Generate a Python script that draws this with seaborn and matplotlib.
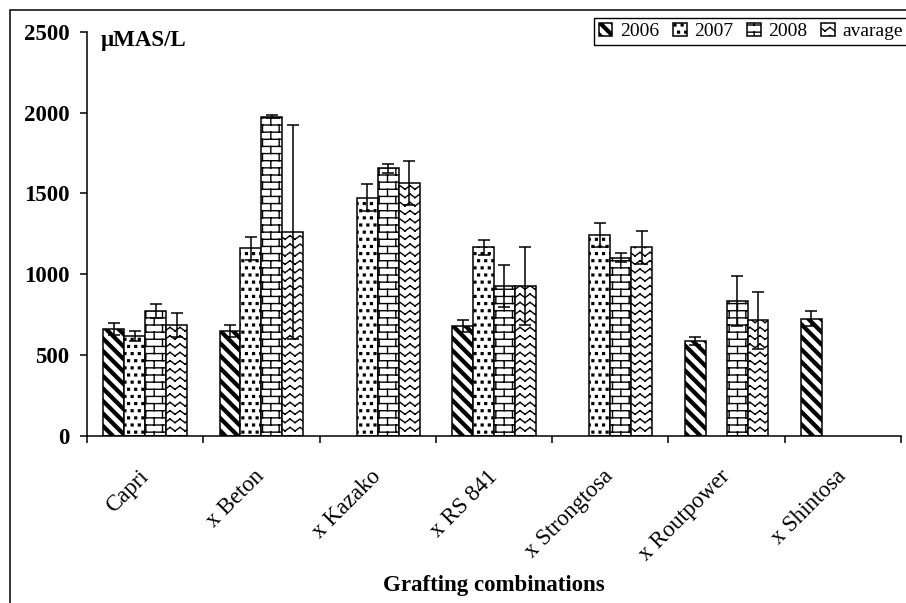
import warnings
warnings.filterwarnings("ignore")
import numpy as np
import pandas as pd
import matplotlib
matplotlib.use("Agg")
import matplotlib.pyplot as plt
import matplotlib.hatch as mhatch
from matplotlib.path import Path
from matplotlib.patches import Rectangle
import seaborn as sns

# ---------------- data ----------------
categories = ["Capri", "x Beton", "x Kazako", "x RS 841", "x Strongtosa", "x Routpower", "x Shintosa"]
years = ["2006", "2007", "2008", "avarage"]
values_2006 = [660, 649, np.nan, 680, np.nan, 588, 726]
values_2007 = [618, 1161, 1474, 1167, 1243, np.nan, np.nan]
values_2008 = [773, 1975, 1655, 928, 1103, 837, np.nan]
values_avg = [686, 1260, 1563, 928, 1167, 715, np.nan]
err_2006 = [37, 38, np.nan, 35, np.nan, 26, 45]
err_2007 = [30, 70, 82, 47, 72, np.nan, np.nan]
err_2008 = [43, 10, 27, 128, 29, 155, np.nan]
err_avg = [75, 663, 135, 240, 103, 176, np.nan]
y_ticks = [0, 500, 1000, 1500, 2000, 2500]

# ---------------- custom hatch patterns ----------------
MOVE, LINE, CLOSE = Path.MOVETO, Path.LINETO, Path.CLOSEPOLY


def _stripes():
    n, w = 8, 0.04
    V, C = [], []
    for k in range(-n - 1, n + 1):
        x0 = k / n
        V += [(x0, 1), (x0 + w, 1), (x0 + w + 1, 0), (x0 + 1, 0), (x0, 1)]
        C += [MOVE, LINE, LINE, LINE, CLOSE]
    return V, C


def _dots():
    n, s = 14, 0.018
    V, C = [], []
    for r in range(-1, n + 1):
        yc = (r + 0.5) / n
        off = 0.5 / n if r % 2 else 0.0
        for c in range(-1, n + 1):
            xc = (c + 0.5) / n + off
            V += [(xc - s / 2, yc - s / 2), (xc + s / 2, yc - s / 2),
                  (xc + s / 2, yc + s / 2), (xc - s / 2, yc + s / 2),
                  (xc - s / 2, yc - s / 2)]
            C += [MOVE, LINE, LINE, LINE, CLOSE]
    return V, C


def _bricks():
    rows, cols = 14, 6
    V, C = [], []
    for k in range(rows):
        y = (k + 0.5) / rows
        V += [(-0.1, y), (1.1, y)]
        C += [MOVE, LINE]
    for k in range(-1, rows):
        ylo, yhi = (k + 0.5) / rows, (k + 1.5) / rows
        off = 0.25 if k % 2 == 0 else 0.75
        for j in range(-1, cols + 1):
            x = (j + off) / cols
            V += [(x, ylo), (x, yhi)]
            C += [MOVE, LINE]
    return V, C


def _zigzag():
    rows, per, a = 12, 10, 0.018
    V, C = [], []
    for k in range(rows):
        yc = (k + 0.5) / rows
        pts = [(i / (2 * per), yc + (a if i % 2 == 0 else -a)) for i in range(2 * per + 1)]
        for p, q in zip(pts[:-1], pts[1:]):
            V += [p, q]
            C += [MOVE, LINE]
    return V, C


def _make_hatch_class(char, builder):
    class _H:
        def __init__(self, hatch, density):
            if hatch is not None and char in hatch:
                v, c = builder()
                self.verts = np.asarray(v, float)
                self.codes = np.asarray(c, Path.code_type)
            else:
                self.verts = np.empty((0, 2))
                self.codes = np.empty(0, Path.code_type)
            self.num_vertices = len(self.verts)

        def set_vertices_and_codes(self, vertices, codes):
            vertices[:] = self.verts
            codes[:] = self.codes
    return _H


mhatch._hatch_types.extend([
    _make_hatch_class("k", _stripes),
    _make_hatch_class("d", _dots),
    _make_hatch_class("b", _bricks),
    _make_hatch_class("z", _zigzag),
])
hatches = ["k", "d", "b", "z"]

# ---------------- style ----------------
sns.set_theme(style="ticks", rc={
    "axes.edgecolor": "black", "text.color": "black",
    "xtick.color": "black", "ytick.color": "black",
    "axes.labelcolor": "black", "hatch.linewidth": 1.0,
    "hatch.color": "black",
})
plt.rcParams["font.family"] = ["Liberation Serif", "DejaVu Sans"]

# ---------------- table ----------------
vals = dict(zip(years, [values_2006, values_2007, values_2008, values_avg]))
errs = dict(zip(years, [err_2006, err_2007, err_2008, err_avg]))
rows = []
for y in years:
    for c, v, e in zip(categories, vals[y], errs[y]):
        rows.append({"combination": c, "year": y, "value": v, "err": e})
df = pd.DataFrame(rows).dropna(subset=["value"])

# ---------------- figure ----------------
fig = plt.figure(figsize=(9.06, 6.03), dpi=100)
ax = fig.add_axes([87 / 906, 1 - 436 / 603, 814 / 906, (436 - 31.7) / 603])

sns.barplot(data=df, x="combination", y="value", hue="year", order=categories,
            hue_order=years, palette={y: "white" for y in years}, saturation=1,
            edgecolor="black", linewidth=1.1, width=0.72, errorbar=None,
            legend=False, ax=ax, zorder=2)

bar_x, bar_h, bar_e = [], [], []
legend_handles = [None] * len(years)
for p in ax.patches:
    xc = p.get_x() + p.get_width() / 2
    ci = int(round(xc))
    hi = int(round((xc - ci) / p.get_width() + (len(years) - 1) / 2))
    p.set_hatch(hatches[hi])
    if legend_handles[hi] is None:
        legend_handles[hi] = p
    e = errs[years[hi]][ci]
    if not np.isnan(e):
        bar_x.append(xc)
        bar_h.append(p.get_height())
        bar_e.append(e)

ax.errorbar(bar_x, bar_h, yerr=bar_e, fmt="none", ecolor="black",
            elinewidth=1.1, capsize=4, capthick=1.1, zorder=3)

# axes styling
sns.despine(ax=ax)
for s in ["left", "bottom"]:
    ax.spines[s].set_linewidth(1.1)
    ax.spines[s].set_color("black")

ax.set_ylim(0, 2500)
ax.set_yticks(y_ticks)
ax.set_yticklabels([str(t) for t in y_ticks], fontweight="bold", fontsize=16.5)
ax.tick_params(axis="y", direction="out", length=5, width=1.1, pad=7.5)

ax.set_xlim(-0.5, len(categories) - 0.5)
ax.set_xticks(range(len(categories)))
ax.set_xticklabels(categories, rotation=45, ha="right", va="center",
                   rotation_mode="anchor", fontsize=16.5)
ax.tick_params(axis="x", which="major", length=0, pad=27)
ax.set_xticks(np.arange(len(categories) + 1) - 0.5, minor=True)
ax.tick_params(axis="x", which="minor", length=5, width=1.1, direction="out")

ax.set_ylabel("")
ax.set_xlabel("Grafting combinations", fontweight="bold", fontsize=16.5)
ax.xaxis.set_label_coords(0.5, -0.344)

ax.text(0.017, 1.005, "µMAS/L", transform=ax.transAxes, fontweight="bold",
        fontsize=16.5, va="top", ha="left")

leg = fig.legend(handles=legend_handles, labels=years, loc="upper left",
                 bbox_to_anchor=(594 / 906, 1 - 18 / 603), ncol=4, fontsize=14,
                 frameon=True, fancybox=False, edgecolor="black", framealpha=1,
                 borderpad=0.25, handlelength=0.7, handleheight=0.7,
                 handletextpad=0.4, columnspacing=0.7, borderaxespad=0)
leg.get_frame().set_linewidth(1.0)

fig.add_artist(Rectangle((10 / 906, -0.05), 1.1, 1 - 10 / 603 + 0.05,
                         transform=fig.transFigure, fill=False,
                         edgecolor="black", linewidth=1.1))

fig.savefig("out.png", dpi=100)
